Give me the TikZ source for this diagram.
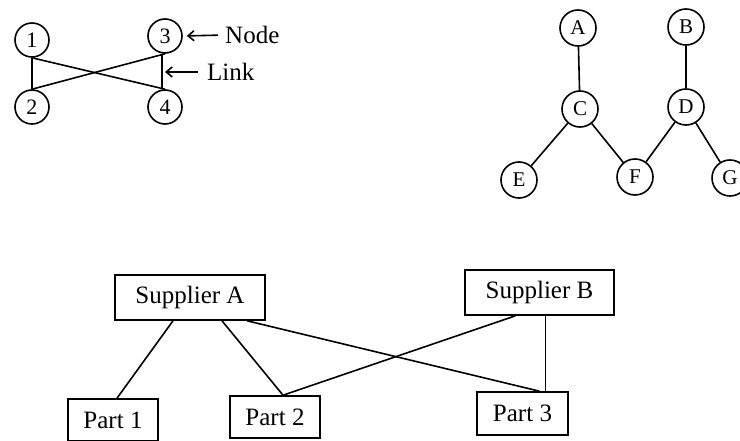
\documentclass[tikz,border=0pt]{standalone}
\usepackage{fontspec}
\setmainfont{Liberation Serif}
\usetikzlibrary{arrows.meta}
\begin{document}
\begin{tikzpicture}[x=1pt,y=-1pt,
  cnode/.style={circle,draw,line width=1.6pt,minimum size=34pt,inner sep=0pt,font=\fontsize{22}{24}\selectfont},
  tnode/.style={circle,draw,line width=1.6pt,minimum size=36pt,inner sep=0pt,font=\fontsize{21}{23}\selectfont},
  boxnode/.style={rectangle,draw,line width=1.6pt,inner sep=0pt,font=\fontsize{25}{27}\selectfont},
  lbl/.style={inner sep=0pt,font=\fontsize{25}{27}\selectfont},
  link/.style={line width=1.6pt},
  pointer/.style={line width=1.6pt,-{Straight Barb[length=6pt,width=10pt]}}]
\useasboundingbox (0,0) rectangle (740,441);
\clip (0,0) rectangle (740,441);
% top-left graph
\node[cnode] (n1) at (32,40) {1};
\node[cnode] (n2) at (32,107) {2};
\node[cnode] (n3) at (165,36) {3};
\node[cnode] (n4) at (165,107) {4};
\draw[link] (n1.south) -- (n2.north);
\draw[link] ([xshift=-3pt]n3.south) -- ([xshift=-3pt]n4.north);
\draw[link] (n1.south) -- (n4.north);
\draw[link] (n2.north) -- (n3.south);
\node[lbl,anchor=west] (nodelbl) at (225,35) {Node};
\node[lbl,anchor=west] (linklbl) at (207,72) {Link};
\coordinate (linkpt) at (164,72);
\draw[pointer,shorten <=7pt,shorten >=4pt] (nodelbl.west) -- (n3.east);
\draw[pointer,shorten <=9pt,shorten >=1pt] (linklbl.west) -- (linkpt);
% top-right tree
\node[tnode] (A) at (578,28) {A};
\node[tnode] (B) at (686,27) {B};
\node[tnode] (C) at (580,109) {C};
\node[tnode] (D) at (686,107) {D};
\node[tnode] (E) at (519,180) {E};
\node[tnode] (F) at (635,177) {F};
\node[tnode] (G) at (730,178) {G};
\draw[link] (A) -- (C);
\draw[link] (B) -- (D);
\draw[link] (C) -- (E);
\draw[link] (C) -- (F);
\draw[link] (D) -- (F);
\draw[link] (D) -- (G);
% bottom network
\node[boxnode,minimum width=150pt,minimum height=45pt] (supA) at (190,297.5) {Supplier A};
\node[boxnode,minimum width=149pt,minimum height=45pt] (supB) at (539.5,292.5) {Supplier B};
\node[boxnode,minimum width=90pt,minimum height=42pt] (p1) at (113,420) {Part 1};
\node[boxnode,minimum width=90pt,minimum height=42pt] (p2) at (275,417) {Part 2};
\node[boxnode,minimum width=91pt,minimum height=43pt] (p3) at (522.5,413.5) {Part 3};
\draw[link] ([xshift=-17pt]supA.south) -- ([xshift=4pt]p1.north);
\draw[link] ([xshift=32pt]supA.south) -- ([xshift=8pt]p2.north);
\draw[link] ([xshift=57pt]supA.south) -- ([xshift=17pt]p3.north);
\draw[link] ([xshift=-24pt]supB.south) -- ([xshift=8pt]p2.north);
\draw[link] ([xshift=6pt]supB.south) -- ([xshift=23pt]p3.north);
\end{tikzpicture}
\end{document}
